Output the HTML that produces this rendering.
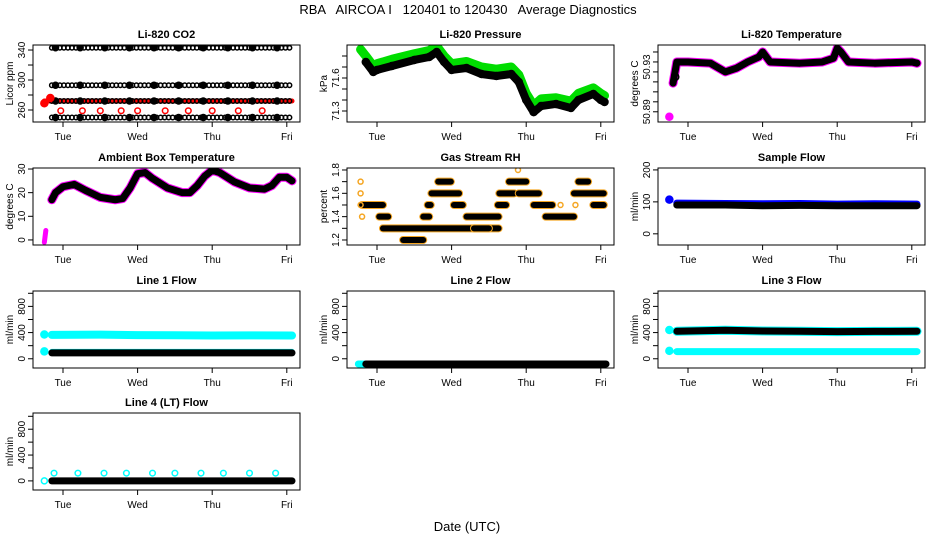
<!DOCTYPE html>
<html><head><meta charset="utf-8">
<style>
html,body{margin:0;padding:0;background:#fff;}
svg{display:block;font-family:"Liberation Sans",sans-serif;}
</style></head>
<body>
<svg id="chart" width="936" height="540" viewBox="0 0 936 540">
<text x="468" y="14" text-anchor="middle" font-size="13" style="white-space:pre" xml:space="preserve">RBA   AIRCOA I   120401 to 120430   Average Diagnostics</text>
<text x="467" y="531" text-anchor="middle" font-size="13">Date (UTC)</text>
</svg>
<script>
// ---- data arrays ----
const dayLabels = ["Tue","Wed","Thu","Fri"];
const dayTicks = [1,2,3,4];
// CO2 levels (ppm) for reference-gas rows
const co2BlackLevels = [343,293,272,250];
const co2RedBand = [272];
const co2RedOpenLevel = [259];
const co2RedOpenTimes = [0.97,1.26,1.5,1.78,2.0,2.37,2.68,3.0,3.35,3.67];
// Pressure (kPa)
const presT = [0.85,0.95,1.0,1.2,1.5,1.7,1.8,1.9,2.0,2.2,2.4,2.6,2.8,2.9,3.0,3.1,3.2,3.4,3.6,3.7,3.9,4.0,4.05];
const presBlack = [71.745,71.655,71.673,71.709,71.764,71.791,71.836,71.745,71.673,71.691,71.636,71.618,71.636,71.564,71.40,71.29,71.345,71.364,71.327,71.40,71.455,71.40,71.382];
const presGreenT = [0.78,0.85,0.95,1.0,1.2,1.5,1.7,1.8,1.9,2.0,2.2,2.4,2.6,2.8,2.9,3.0,3.1,3.2,3.4,3.6,3.7,3.9,4.0,4.05];
const presGreen = [71.86,71.80,71.71,71.73,71.77,71.82,71.85,71.89,71.80,71.73,71.75,71.70,71.68,71.70,71.63,71.46,71.35,71.41,71.42,71.39,71.46,71.51,71.46,71.44];
// Li-820 temperature (C)
const ltT = [0.8,0.85,1.0,1.3,1.5,1.65,1.8,1.95,2.0,2.1,2.5,2.8,2.95,3.0,3.05,3.15,3.5,4.0,4.07];
const ltBlack = [50.913,50.930,50.930,50.929,50.922,50.925,50.930,50.934,50.938,50.930,50.929,50.930,50.933,50.941,50.938,50.930,50.929,50.930,50.929];
const ltMagT = [0.75];
const ltMag = [50.886];
// Ambient box temperature (C)
const ambT = [0.85,0.9,1.0,1.15,1.3,1.5,1.7,1.8,1.9,2.0,2.1,2.2,2.4,2.6,2.7,2.8,2.9,3.0,3.1,3.3,3.5,3.7,3.8,3.9,4.0,4.07];
const ambBlack = [17,20,22.5,23.5,21,18,17,17.5,22,28,28.5,26,22,20,20,23,27,29.5,28.5,24.5,22,21.5,23,26.5,26.5,25];
const ambMagT = [0.75,0.77];
const ambMag = [-1,4];
// Gas stream RH segments: start, end, level
const rhStart = [0.8,1.03,1.08,1.35,1.62,1.68,1.73,1.82,2.03,2.2,2.3,2.62,2.64,2.77,2.9,3.1,3.26,3.64,3.7,3.9];
const rhEnd =   [1.08,1.15,2.63,1.62,1.7,1.72,2.1,1.99,2.15,2.63,2.5,2.73,2.84,3.0,3.17,3.35,3.64,4.04,3.83,4.04];
const rhLevel = [1.5,1.4,1.3,1.2,1.4,1.5,1.6,1.7,1.5,1.4,1.3,1.5,1.6,1.7,1.6,1.5,1.4,1.6,1.7,1.5];
const rhExtraT = [0.78,0.78,0.78,0.8,2.89,3.46,3.66];
const rhExtraV = [1.7,1.6,1.5,1.4,1.8,1.5,1.5];
// flows (ml/min)
const flowT = [0.85,1.5,2.0,2.5,3.0,3.5,4.07];
const sampleBlue = [96,95,94,95,93,94,93];
const sampleBlack = [90,90,88,89,88,88,88];
const line1CyanHi = [365,368,362,360,355,358,355];
const line1CyanLo = [112,112,112,112,112,112,112];
const line1Black = [90,90,90,90,90,90,90];
const line2Black = [-80,-80,-80,-80,-80,-80,-80];
const line3Black = [420,435,425,420,415,418,420];
const line3CyanLo = [110,110,110,110,110,110,110];
const line4Black = [0,0,0,0,0,0,0];
const line4CyanT = [0.88,1.2,1.55,1.85,2.2,2.5,2.85,3.15,3.5,3.85];
const line4Cyan = [120,120,120,120,120,120,120,120,120,120];

// ---- rendering ----
const NS="http://www.w3.org/2000/svg";
const svg=document.getElementById('chart');
const W=267,H=77;
function mk(tag,attrs,parent){const e=document.createElementNS(NS,tag);for(const k in attrs)e.setAttribute(k,attrs[k]);(parent||svg).appendChild(e);return e;}
function panel(col,row,title,ylab,vmin,vmax,ticks,labels,labelPos){
  const lefts=[33,347,658],tops=[45,168,291,413];
  const p={left:lefts[col],top:tops[row],vmin:vmin,vmax:vmax};
  p.x=d=>p.left+30+(d-1)*74.6;
  p.y=v=>p.top+(vmax-v)/(vmax-vmin)*H;
  const g=mk('g',{});
  
  
  p.g=g;
  const cid='c'+col+'_'+row;
  const cp=mk('clipPath',{id:cid},g);mk('rect',{x:p.left,y:p.top,width:W,height:H},cp);
  p.plot=mk('g',{'clip-path':'url(#'+cid+')'},g);
  
  
  const t=mk('text',{x:p.left+W/2,y:p.top-7,'text-anchor':'middle','font-size':'11','font-weight':'bold'},g);
  t.textContent=title;
  
  
  const yl=mk('text',{transform:'translate('+(p.left-20)+','+(p.top+H/2)+') rotate(-90)','text-anchor':'middle','font-size':'10'},g);
  yl.textContent=ylab;
  
  
  ticks.forEach(v=>{const yy=p.y(v);mk('line',{x1:p.left-5,x2:p.left,y1:yy,y2:yy,stroke:'#000'},g);});
  labels.forEach((s,i)=>{const yy=p.y(labelPos[i]);
    const tl=mk('text',{transform:'translate('+(p.left-8)+','+yy+') rotate(-90)','text-anchor':'middle','font-size':'10'},g);
    tl.textContent=s;
    
    });
  dayTicks.forEach((d,i)=>{const xx=p.x(d);mk('line',{x1:xx,x2:xx,y1:p.top+H,y2:p.top+H+5,stroke:'#000'},g);
    const tx=mk('text',{x:xx,y:p.top+H+18,'text-anchor':'middle','font-size':'10'},g);tx.textContent=dayLabels[i];
    
    });
  const box=mk('rect',{x:p.left,y:p.top,width:W,height:H,fill:'none',stroke:'#000'},g);
  
  
  return p;
}
function band(p,T,V,color,w,edge){
  const pts=T.map((t,i)=>p.x(t)+','+p.y(V[i])).join(' ');
  if(edge){const e=mk('polyline',{points:pts,fill:'none',stroke:edge,'stroke-width':w+2,'stroke-linejoin':'round','stroke-linecap':'round'},p.plot);
    
    }
  const l=mk('polyline',{points:pts,fill:'none',stroke:color,'stroke-width':w,'stroke-linejoin':'round','stroke-linecap':'round'},p.plot);
  
  
}
function pts(p,T,V,color,r,fill){
  T.forEach((t,i)=>{const c=mk('circle',{cx:p.x(t),cy:p.y(V[i]),r:r,fill:fill?color:'none',stroke:color,'stroke-width':1.5},p.plot);
    
    });
}

// CO2
let p=panel(0,0,'Li-820 CO2','Licor ppm',244,346.7,[260,280,300,320,340],['260','300','340'],[260,300,340]);
band(p,[0.75,0.85,4.07],[co2RedBand[0],co2RedBand[0],co2RedBand[0]],'#f00',5);
co2BlackLevels.forEach((lv,j)=>{
  const T=[],V=[];for(let t=0.85;t<=4.07;t+=0.054){T.push(t);V.push(lv);}
  pts(p,T,V,'#000',2.2,false);
  const T2=[],V2=[];for(let t=0.9;t<=4.07;t+=0.33){T2.push(t);V2.push(lv);}
  pts(p,T2,V2,'#000',3,true);
});
pts(p,[0.75,0.83],[269,276],'#f00',3.5,true);
pts(p,co2RedOpenTimes,co2RedOpenTimes.map(()=>co2RedOpenLevel[0]),'#f00',2.8,false);

// Pressure
p=panel(1,0,'Li-820 Pressure','kPa',71.2,71.9,[71.3,71.4,71.5,71.6,71.7,71.8],['71.3','71.6'],[71.3,71.6]);
band(p,presGreenT,presGreen,'#00dd00',9);
band(p,presT,presBlack,'#000',8);
pts(p,presT,presBlack,'#000',3.5,false);

// Li temp
p=panel(2,0,'Li-820 Temperature','degrees C',50.8818,50.9436,[50.938,50.93,50.922,50.914,50.906,50.898,50.89],['50.89','50.93'],[50.89,50.926]);
band(p,ltT,ltBlack,'#f0f',9);
band(p,ltT,ltBlack,'#000',7);
pts(p,ltMagT,ltMag,'#f0f',3.5,true);
pts(p,[0.83],[50.918],'#000',3.5,false);

// Ambient
p=panel(0,1,'Ambient Box Temperature','degrees C',-2.14,30.43,[0,10,20,30],['0','10','20','30'],[0,10,20,30]);
band(p,ambT,ambBlack,'#f0f',9);
band(p,ambT,ambBlack,'#000',7);
band(p,ambMagT,ambMag,'#f0f',5);

// RH
p=panel(1,1,'Gas Stream RH','percent',1.157,1.817,[1.2,1.3,1.4,1.5,1.6,1.7,1.8],['1.2','1.4','1.6','1.8'],[1.2,1.4,1.6,1.8]);
rhStart.forEach((s,i)=>{band(p,[s,rhEnd[i]],[rhLevel[i],rhLevel[i]],'#000',6,'#f5a623');});
pts(p,rhExtraT,rhExtraV,'#f5a623',2.5,false);

// Sample flow
p=panel(2,1,'Sample Flow','ml/min',-35,206,[0,100,200],['0','100','200'],[0,100,200]);
band(p,flowT,sampleBlue,'#00f',7);
band(p,flowT,sampleBlack,'#000',7);
pts(p,[0.75],[107],'#00f',3.5,true);

// Line 1
p=panel(0,2,'Line 1 Flow','ml/min',-141,1035,[0,200,400,600,800,1000],['0','400','800'],[0,400,800]);
band(p,flowT,line1CyanHi,'#00ffff',8);
band(p,flowT,line1CyanLo,'#00ffff',5);
band(p,flowT,line1Black,'#000',7);
pts(p,[0.75,0.75],[370,112],'#00ffff',3.5,true);
// Line 2
p=panel(1,2,'Line 2 Flow','ml/min',-141,1035,[0,200,400,600,800,1000],['0','400','800'],[0,400,800]);
band(p,[0.75,0.85],[-80,-80],'#00ffff',7);
band(p,flowT,line2Black,'#000',7);
// Line 3
p=panel(2,2,'Line 3 Flow','ml/min',-141,1035,[0,200,400,600,800,1000],['0','400','800'],[0,400,800]);
band(p,flowT,line3CyanLo,'#00ffff',7);
band(p,flowT,line3Black,'#00ffff',9);
band(p,flowT,line3Black,'#000',7);
pts(p,[0.75,0.75],[440,120],'#00ffff',3.5,true);
// Line 4
p=panel(0,3,'Line 4 (LT) Flow','ml/min',-141,1051,[0,200,400,600,800,1000],['0','400','800'],[0,400,800]);
band(p,flowT,line4Black,'#000',7);
pts(p,line4CyanT,line4Cyan,'#00ffff',2.8,false);
pts(p,[0.75],[0],'#00ffff',3,false);
</script>
</body></html>
